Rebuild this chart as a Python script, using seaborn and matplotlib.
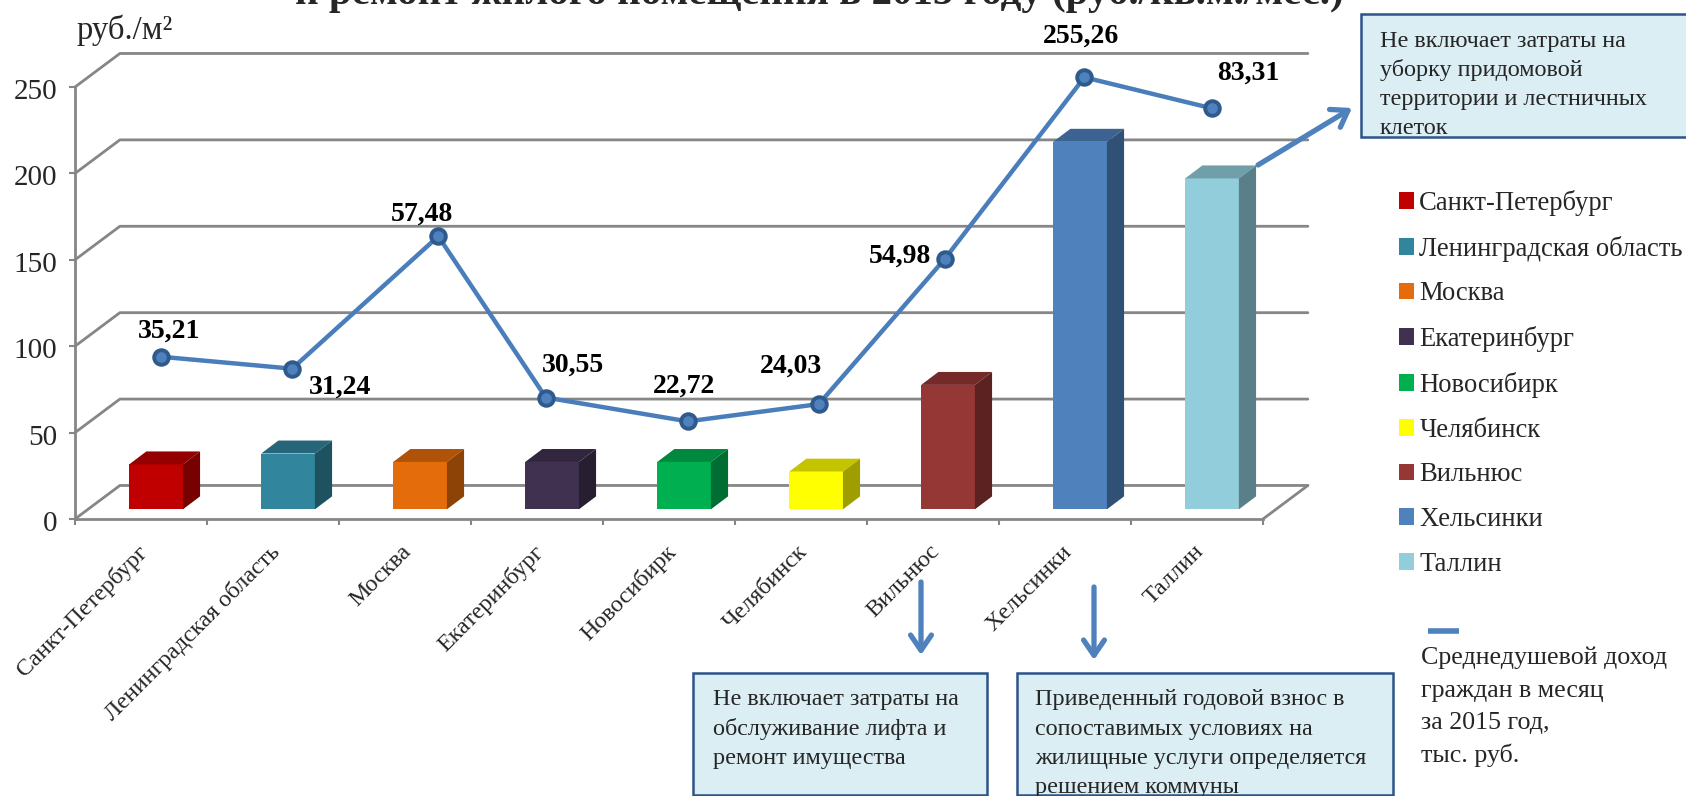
import pandas as pd
import seaborn as sns
from matplotlib import pyplot as plt
from matplotlib.colors import to_rgb
from matplotlib.patches import Patch, Rectangle
from matplotlib.transforms import ScaledTranslation

cities = ['Санкт-Петербург', 'Ленинградская область', 'Москва', 'Екатеринбург',
          'Новосибирк', 'Челябинск', 'Вильнюс', 'Хельсинки', 'Таллин']
bar_values = [26, 32.3, 27.4, 27.4, 27.4, 21.8, 72, 212.7, 191.5]
bar_colors = ['#C00000', '#31859C', '#E46C0A', '#403151', '#00B050',
              '#FFFF00', '#953735', '#4F81BD', '#92CDDC']

# the line in the source is hand placed, so its x is not exactly on the categories
line_pos = [0.151, 1.145, 2.252, 3.067, 4.142, 5.135, 6.088, 7.147, 8.116]
line_values = [93.9, 87, 163.6, 70.3, 56.5, 66.5, 150.4, 255.6, 237.6]
line_labels = ['35,21', '31,24', '57,48', '30,55', '22,72', '24,03', '54,98', '255,26', '83,31']
y_ticks = [0, 50, 100, 150, 200, 250]

W, H = 1686, 796
SERIF = 'Liberation Serif'
GREY = '#868686'
BLUE = '#4A7EBB'
DEPTH_X, DEPTH_Y = 0.34, 19.4
BAR_DX, BAR_DY, BAR_BASE, BAR_SHIFT = 0.13, 7.5, 5.6, 0.114

sns.set_style('white')
plt.rcParams['font.family'] = [SERIF, 'DejaVu Sans']


def shade(color, k):
    return tuple(c * k for c in to_rgb(color))


df = pd.DataFrame({'city': cities, 'value': bar_values})

fig = plt.figure(figsize=(W / 100, H / 100), dpi=100)
ax = fig.add_axes([75 / W, (H - 519) / H, (1263 - 75) / W, (519 - 87) / H])

sns.barplot(data=df, x='city', y='value', hue='city', palette=bar_colors, legend=False,
            width=0.407, saturation=1, zorder=3, linewidth=0, edgecolor='none', ax=ax)

# fake 3d sides from the bars themselves
for bar, color in zip(ax.patches, bar_colors):
    bar.set_y(BAR_BASE)
    bar.set_x(bar.get_x() + BAR_SHIFT)
    x0, x1 = bar.get_x(), bar.get_x() + bar.get_width()
    y0, y1 = BAR_BASE, BAR_BASE + bar.get_height()
    ax.fill([x0, x1, x1 + BAR_DX, x0 + BAR_DX], [y1, y1, y1 + BAR_DY, y1 + BAR_DY],
            color=shade(color, 0.77), lw=0, zorder=3, clip_on=False)
    ax.fill([x1, x1 + BAR_DX, x1 + BAR_DX, x1], [y0, y0 + BAR_DY, y1 + BAR_DY, y1],
            color=shade(color, 0.62), lw=0, zorder=3, clip_on=False)

ax.set_xlim(-0.5, 8.5)
ax.set_ylim(0, 250)

# back wall
for v in y_ticks:
    ax.plot([-0.5, -0.5 + DEPTH_X, 8.5 + DEPTH_X], [v, v + DEPTH_Y, v + DEPTH_Y],
            color=GREY, lw=2, zorder=1, clip_on=False)
ax.plot([8.5, 8.5 + DEPTH_X], [0, DEPTH_Y], color=GREY, lw=2, zorder=1, clip_on=False)

sns.lineplot(x=line_pos, y=line_values, sort=False, estimator=None, color=BLUE, lw=3.2,
             marker='o', markersize=10.5, markerfacecolor='#4F81BD', markeredgecolor='#2F5A8E',
             markeredgewidth=2.8, zorder=5, clip_on=False, ax=ax)

label_shift = [(8, 26), (48, -19), (-16, 22), (27, 32), (-4, 35), (-28, 38), (-45, 3), (-3, 41), (36, 35)]
for x, y, txt, off in zip(line_pos, line_values, line_labels, label_shift):
    ax.annotate(txt, (x, y), xytext=off, textcoords='offset pixels', ha='center', va='center',
                fontsize=20, fontweight='bold', color='black', zorder=6, annotation_clip=False)

sns.despine(ax=ax)
for side in ['left', 'bottom']:
    ax.spines[side].set_color(GREY)
    ax.spines[side].set_linewidth(2)
ax.set_xlabel('')
ax.set_ylabel('')
ax.set_yticks(y_ticks)
ax.tick_params(axis='y', length=4, width=1.5, color=GREY, labelsize=21, pad=9, left=True)
ax.set_xticks(range(len(cities)))
ax.set_xticklabels(cities, rotation=45, ha='right', rotation_mode='anchor', fontsize=17.3)
ax.set_xticks([i - 0.5 for i in range(len(cities) + 1)], minor=True)
ax.tick_params(axis='x', which='major', length=0, pad=16)
ax.tick_params(axis='x', which='minor', length=4, width=1.5, color=GREY, bottom=True)

# small nudges of the tick labels, in pixels
for lab in ax.get_xticklabels():
    lab.set_transform(lab.get_transform() + ScaledTranslation(-4 / 100, 0, fig.dpi_scale_trans))
for lab in ax.get_yticklabels():
    lab.set_transform(lab.get_transform() + ScaledTranslation(0, -2 / 100, fig.dpi_scale_trans))

# everything that sits outside the plot, in pixels
top = fig.add_axes([0, 0, 1, 1])
top.set_xlim(0, W)
top.set_ylim(H, 0)
top.axis('off')

top.text(819, 4, 'и ремонт жилого помещения в 2015 году (руб./кв.м./мес.)', ha='center', va='baseline',
         fontsize=29.5, fontweight='bold')
top.text(77, 39, 'руб./м²', ha='left', va='baseline', fontsize=23.5)

for x0, x1, y0, y1 in [(1361, 1700, 14, 137), (693, 987, 673, 795), (1017, 1393, 673, 795)]:
    top.add_patch(Rectangle((x0, y0), x1 - x0, y1 - y0, fc='#DAEEF3', ec='#2C5488', lw=1.8))

notes = [(1380, 41, ['Не включает затраты на', 'уборку придомовой', 'территории и лестничных', 'клеток']),
         (713, 700, ['Не включает затраты на', 'обслуживание лифта и', 'ремонт имущества']),
         (1035, 700, ['Приведенный годовой взнос в', 'сопоставимых условиях на',
                      'жилищные услуги определяется', 'решением коммуны'])]
for x, y, rows in notes:
    for i, row in enumerate(rows):
        top.text(x, y + i * 29.3, row, ha='left', va='center', fontsize=17.4)

arrows = [((1258, 165), (1352, 108)), ((921, 582), (921, 655)), ((1094, 587), (1094, 660))]
for start, end in arrows:
    top.annotate('', xy=end, xytext=start,
                 arrowprops=dict(arrowstyle='->,head_length=1.1,head_width=0.75', color='#4F81BD',
                                 lw=3.8, shrinkA=0, shrinkB=0))

handles = [Patch(color=c, lw=0) for c in bar_colors]
top.legend(handles, cities, loc='upper left', bbox_to_anchor=(1398.5, 190), bbox_transform=top.transData,
           frameon=False, fontsize=19.2, handlelength=0.58, handleheight=0.58, handletextpad=0.2,
           labelspacing=0.74, borderpad=0, borderaxespad=0)

top.plot([1428, 1459], [631, 631], color='#4F81BD', lw=4, solid_capstyle='butt')
for i, row in enumerate(['Среднедушевой доход', 'граждан в месяц', 'за 2015 год,', 'тыс. руб.']):
    top.text(1421, 658 + i * 32.5, row, ha='left', va='center', fontsize=18.7)

plt.savefig('out.png', dpi=100)
